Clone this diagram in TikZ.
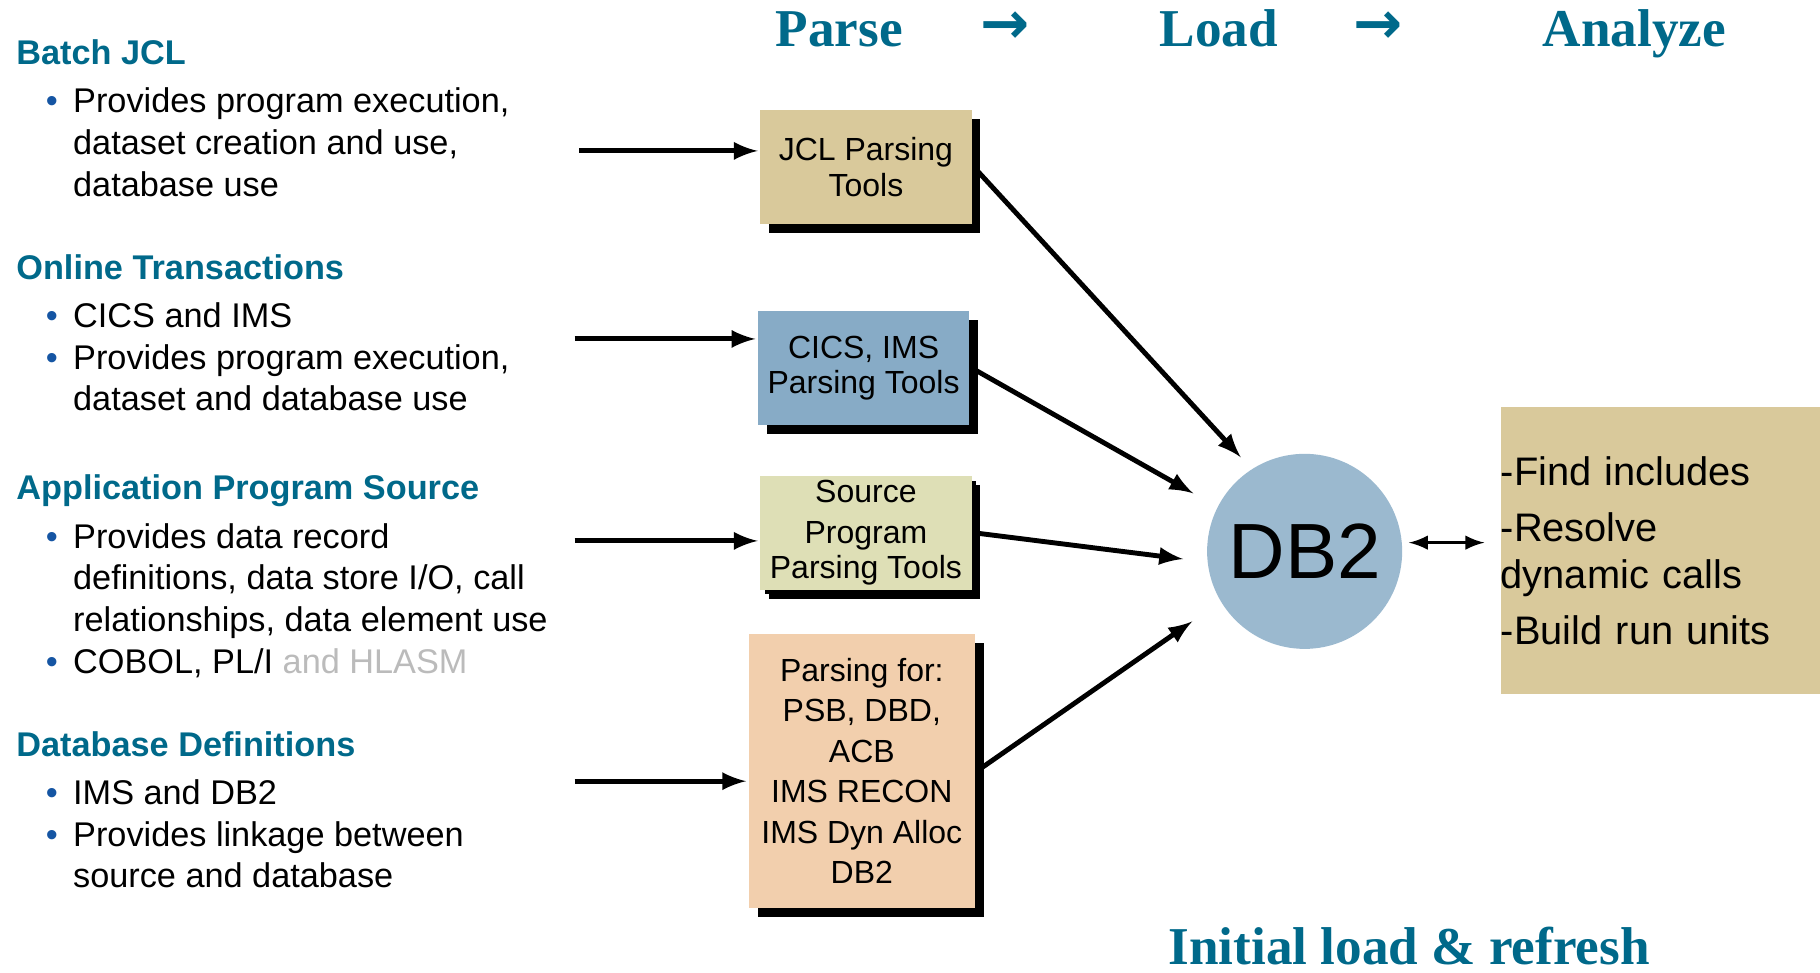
\documentclass[tikz,border=0pt]{standalone}
\usepackage{fontspec}
\setmainfont{Liberation Sans}
\newfontfamily\titlefont{Liberation Serif}
\newfontfamily\symfont{DejaVu Sans}
\usetikzlibrary{arrows, shadows}

\definecolor{hdteal}{HTML}{00698A}
\definecolor{bulblue}{HTML}{1555A3}
\definecolor{hlgray}{HTML}{BBBBBB}
\definecolor{tanbox}{HTML}{D9C99B}
\definecolor{cicsblue}{HTML}{87ABC6}
\definecolor{srcgreen}{HTML}{DEDFB6}
\definecolor{peach}{HTML}{F2CFAD}
\definecolor{dbblue}{HTML}{9BB9CF}

\newcommand{\hd}[1]{\textcolor{hdteal}{\bfseries #1}}
\newcommand{\bl}{\makebox[17.4pt][l]{\hspace{9pt}\textcolor{bulblue}{•}}}

\tikzset{
  title/.style={font=\titlefont\fontsize{16.3}{19}\selectfont\bfseries, text=hdteal, inner sep=0pt},
  stagearrow/.style={font=\symfont\fontsize{18}{20}\selectfont\bfseries, text=hdteal, inner sep=0pt},
  sect/.style={anchor=base west, inner sep=0pt, font=\fontsize{10.5}{12.75}\selectfont},
  tool/.style={minimum width=2.275cm, minimum height=1.225cm, inner sep=0pt, align=center,
    font=\fontsize{9.8}{10.8}\selectfont,
    general shadow={fill=black, shadow xshift=0.096cm, shadow yshift=-0.096cm}},
}

\begin{document}
\begin{tikzpicture}[x=0.0125cm, y=-0.0125cm, >=latex, line width=1.5pt]
      \useasboundingbox (0,0) rectangle (1568,838);

      % stages
      \node[title, anchor=base] (parse) at (723,40) {Parse};
      \node[stagearrow] (to1) at (866,24) {→};
      \node[title, anchor=base] (load) at (1050,40) {Load};
      \node[stagearrow] (to2) at (1187,24) {→};
      \node[title, anchor=base] (analyze) at (1408,40) {Analyze};

      % inputs
      \node[sect] (batch) at (12,55.5) {\begin{tabular}[t]{@{}l@{}l@{}}
        \multicolumn{2}{@{}l@{}}{\hd{Batch JCL}}\\[2.1pt]
        \bl & Provides program execution,\\
            & dataset creation and use,\\
            & database use
      \end{tabular}};
      \node[sect] (online) at (12,240.5) {\begin{tabular}[t]{@{}l@{}l@{}}
        \multicolumn{2}{@{}l@{}}{\hd{Online Transactions}}\\[2.1pt]
        \bl & CICS and IMS\\
        \bl & Provides program execution,\\
            & dataset and database use
      \end{tabular}};
      \node[sect] (appsrc) at (12,430.5) {\begin{tabular}[t]{@{}l@{}l@{}}
        \multicolumn{2}{@{}l@{}}{\hd{Application Program Source}}\\[2.1pt]
        \bl & Provides data record\\
            & definitions, data store I/O, call\\
            & relationships, data element use\\
        \bl & COBOL, PL/I \textcolor{hlgray}{and HLASM}
      \end{tabular}};
      \node[sect] (dbdef) at (12,651.5) {\begin{tabular}[t]{@{}l@{}l@{}}
        \multicolumn{2}{@{}l@{}}{\hd{Database Definitions}}\\[2.1pt]
        \bl & IMS and DB2\\
        \bl & Provides linkage between\\
            & source and database
      \end{tabular}};

      % parsing tools
      \node[tool, fill=tanbox] (jcl) at (746,144) {JCL Parsing\\Tools};
      \node[tool, fill=cicsblue] (cics) at (744,317) {CICS, IMS\\Parsing Tools};
      \node[tool, fill=srcgreen, general shadow={fill=black, shadow xshift=0.05cm, shadow yshift=-0.05cm}]
        (src) at (746,459) {Source\\[1.6pt]Program\\Parsing Tools};
      \node[tool, fill=peach, minimum width=2.4375cm, minimum height=2.95cm,
        font=\fontsize{9.8}{12.4}\selectfont] (dbd) at (742.5,664)
        {Parsing for:\\PSB, DBD,\\ACB\\IMS RECON\\IMS Dyn Alloc\\DB2};

      \node[circle, fill=dbblue, minimum size=2.1cm, inner sep=0pt,
        font=\fontsize{24}{28}\selectfont] (db2) at (1124,475) {DB2};

      \node[fill=tanbox, minimum width=3.4375cm, minimum height=3.0875cm, text width=3.4375cm,
        inner sep=0pt, align=left, font=\fontsize{12.2}{14.5}\selectfont] (res) at (1430.5,474.5)
        {-Find includes\\[2.5pt]-Resolve\\dynamic calls\\[2.5pt]-Build run units};

      \node[title, anchor=base] (refresh) at (1214,831) {Initial load \& refresh};

      \coordinate (in1) at (499,130);
      \coordinate (in2) at (495,292);
      \coordinate (in3) at (495,466);
      \coordinate (in4) at (495,673);

      \draw[-latex] (in1) -- (in1 -| jcl.west);
      \draw[-latex] (in2) -- (in2 -| cics.west);
      \draw[-latex] (in3) -- (in3 -| src.west);
      \draw[-latex] (in4) -- (in4 -| dbd.west);

      \draw[-latex, shorten >=0.15cm] (jcl.east) -- (db2.123);
      \draw[-latex, shorten >=0.275cm] (cics.east) -- (db2.153);
      \draw[-latex, shorten >=0.24cm] (src.east) -- (db2.186);
      \draw[-latex, shorten >=0.35cm] (dbd.east) -- (db2.211);

      \draw[latex-latex, line width=1pt, shorten <=0.05cm, shorten >=0.15cm] (db2.5) -- (res.west |- db2.5);

    \end{tikzpicture}
\end{document}
